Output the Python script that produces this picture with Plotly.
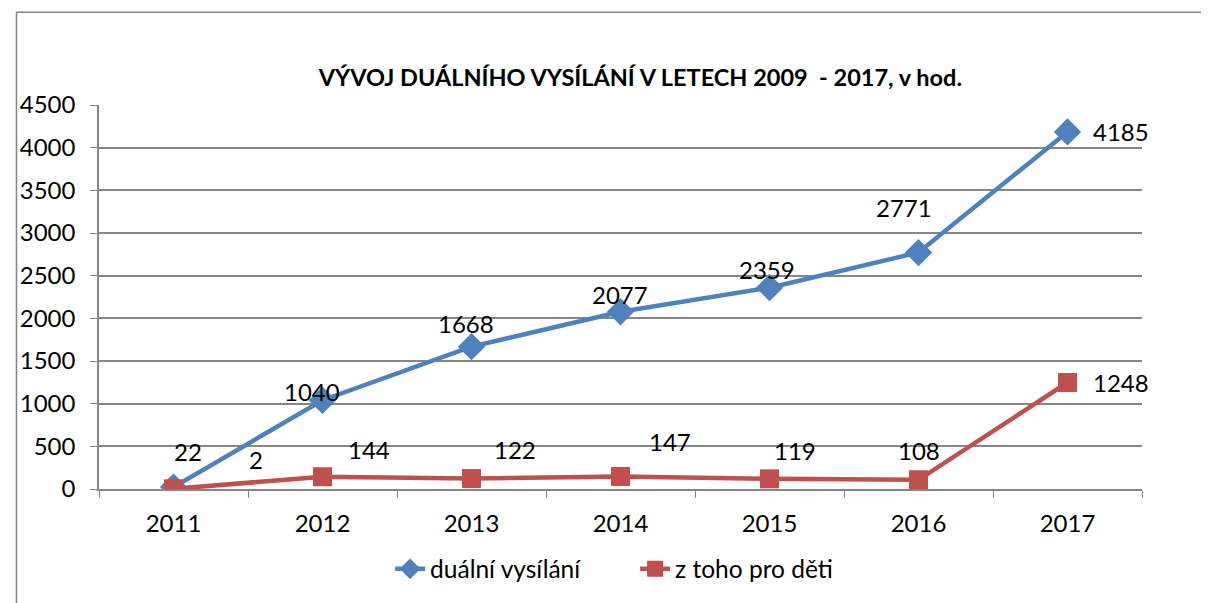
import plotly.graph_objects as go

years = ["2011", "2012", "2013", "2014", "2015", "2016", "2017"]
dual = [22, 1040, 1668, 2077, 2359, 2771, 4185]
kids = [2, 144, 122, 147, 119, 108, 1248]
dual_name = "duální vysílání"
kids_name = "z toho pro děti"
title = "VÝVOJ DUÁLNÍHO VYSÍLÁNÍ V LETECH 2009  - 2017, v hod."

# label pixel offsets (style)
dual_off = [(14, 36), (-11, 9), (-6, 23), (-1, 17), (-3, 18), (-15, 45), (53, 0)]
kids_off = [(82, 29), (46, 27), (43, 29), (49, 35), (25, 28), (0, 29), (53, 0)]

BLUE = "#4F81BD"
RED = "#C0504D"
FONT = "Lato, Carlito, Liberation Sans, sans-serif"

fig = go.Figure()
fig.add_trace(go.Scatter(x=years, y=dual, name=dual_name, mode="lines+markers",
                         line=dict(color=BLUE, width=4.5),
                         marker=dict(symbol="diamond", size=21, color=BLUE)))
fig.add_trace(go.Scatter(x=years, y=kids, name=kids_name, mode="lines+markers",
                         line=dict(color=RED, width=4.5),
                         marker=dict(symbol="square", size=19, color=RED)))

for i, (y, (dx, dy)) in enumerate(zip(dual, dual_off)):
    fig.add_annotation(x=i, y=y, xref="x", yref="y", text=str(y), showarrow=False,
                       xshift=dx, yshift=dy,
                       font=dict(size=24, color="black", family=FONT))
for i, (y, (dx, dy)) in enumerate(zip(kids, kids_off)):
    fig.add_annotation(x=i, y=y, xref="x", yref="y", text=str(y), showarrow=False,
                       xshift=dx, yshift=dy,
                       font=dict(size=24, color="black", family=FONT))

fig.add_shape(type="rect", xref="paper", yref="paper", x0=-0.0791, x1=1.0582,
              y0=-0.4, y1=1.2416, line=dict(color="#868686", width=1.5),
              fillcolor="rgba(0,0,0,0)", layer="below")

fig.update_layout(
    width=1201, height=595,
    margin=dict(l=85, r=67, t=97, b=113),
    paper_bgcolor="white", plot_bgcolor="white",
    font=dict(family=FONT, size=24, color="black"),
    title=dict(text="<b>" + title + "</b>", x=0.519, xanchor="center", y=0.882, yanchor="middle",
               xref="paper",
               font=dict(size=23.5, family=FONT, color="black")),
    showlegend=True,
    legend=dict(orientation="h", x=0.514, xanchor="center", y=-0.208, yanchor="middle",
                font=dict(size=24.5, family=FONT), tracegroupgap=0, entrywidth=200),
    xaxis=dict(type="category", range=[-0.5, 6.5], showgrid=False, showline=True,
               linecolor="#868686", linewidth=1.5, ticks="outside", tickson="boundaries",
               ticklen=7, tickcolor="#868686", tickfont=dict(size=24), ticklabelstandoff=12,
               fixedrange=True),
    yaxis=dict(range=[0, 4500], dtick=500, showgrid=True, gridcolor="#868686", gridwidth=1.5,
               showline=True, linecolor="#868686", linewidth=1.5, ticks="outside", ticklen=7,
               tickcolor="#868686", tickfont=dict(size=24), ticklabelstandoff=10,
               zeroline=False, fixedrange=True),
)

fig.write_html("out.html")
